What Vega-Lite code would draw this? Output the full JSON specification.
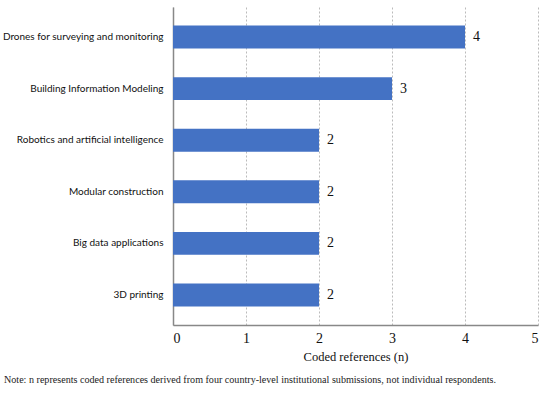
{
  "$schema": "https://vega.github.io/schema/vega-lite/v6.json",
  "autosize": "none",
  "padding": {"left": 173, "top": 7, "right": 12, "bottom": 77},
  "width": 365,
  "height": 318,
  "background": "white",
  "title": {
    "text": "Note: n represents coded references derived from four country-level institutional submissions, not individual respondents.",
    "orient": "bottom",
    "anchor": "start",
    "frame": "group",
    "dx": -169,
    "font": "Liberation Serif",
    "fontSize": 10.1,
    "fontWeight": "normal",
    "color": "#222",
    "offset": 12
  },
  "data": {
    "values": [
      {"technology": "Drones for surveying and monitoring", "n": 4},
      {"technology": "Building Information Modeling", "n": 3},
      {"technology": "Robotics and artificial intelligence", "n": 2},
      {"technology": "Modular construction", "n": 2},
      {"technology": "Big data applications", "n": 2},
      {"technology": "3D printing", "n": 2}
    ]
  },
  "encoding": {
    "y": {
      "field": "technology",
      "type": "nominal",
      "sort": null,
      "scale": {"paddingInner": 0.555, "paddingOuter": 0.36},
      "axis": {
        "title": null,
        "ticks": false,
        "labelFont": "Lato",
        "labelFontSize": 10,
        "labelColor": "#111",
        "labelPadding": 10,
        "labelLimit": 170,
        "domainColor": "#888",
        "domainWidth": 1.5
      }
    },
    "x": {
      "field": "n",
      "type": "quantitative",
      "scale": {"domain": [0, 5], "nice": false},
      "axis": {
        "title": "Coded references (n)",
        "values": [0, 1, 2, 3, 4, 5],
        "format": "d",
        "ticks": false,
        "grid": true,
        "gridDash": [2, 2],
        "gridColor": "#bbb",
        "domainColor": "#888",
        "domainWidth": 1.5,
        "labelFont": "Liberation Serif",
        "labelFontSize": 14,
        "labelColor": "#111",
        "labelPadding": 6,
        "titleFont": "Liberation Serif",
        "titleFontSize": 12.5,
        "titleFontWeight": "normal",
        "titleColor": "#111",
        "titlePadding": 5
      }
    }
  },
  "layer": [
    {"mark": {"type": "bar", "color": "#4472C4"}},
    {
      "mark": {"type": "text", "align": "left", "dx": 8, "font": "Liberation Serif", "fontSize": 14, "color": "#111"},
      "encoding": {"text": {"field": "n", "type": "quantitative"}}
    }
  ],
  "config": {"view": {"stroke": null}}
}
